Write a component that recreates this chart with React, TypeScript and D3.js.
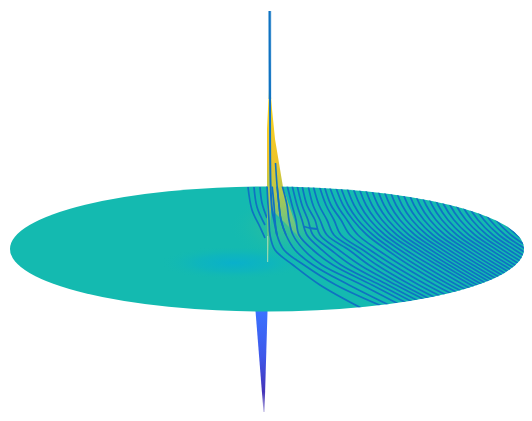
import React from "react";
import * as d3 from "d3";

// Surface extent, in units of the disc (centre = 0)
const discXDomain = [-257, 257];
const discYDomain = [-62.5, 62.5];
const discCentreX = 267;
const discCentreY = 249;

// Contour lines: sampled depth levels (disc Y) and the disc X crossing at each of them
const contourLevels = [-64, -44, -29, -14, 1, 16, 36, 61];
const xAtLevel0 = [267,272,277,282,287,292,297,302,308,313,319,324,329,335,340,346,352,358,364,370,376,382,388,394,400,406,412,418,424,430,436,442,448,454,460,466,472,478,484];
const xAtLevel1 = [268,274,279,287,292,297,302,307,313,319,326,331,337,343,348,354,360,366,372,378,384,390,396,402,408,414,420,426,432,438,444,450,456,462,468,474,480,486,492];
const xAtLevel2 = [269,275,281,289,296,302,308,315,320,327,334,341,347,353,358,364,370,376,382,388,394,400,406,412,418,424,430,436,442,448,454,460,466,472,478,484,490,496,502];
const xAtLevel3 = [270,277,286,293,299,307,313,320,327,334,341,350,358,367,373,379,385,391,397,403,409,415,421,427,433,439,445,451,457,463,469,475,481,487,493,499,505,511,517];
const xAtLevel4 = [275,284,295,304,313,322,331,339,349,356,363,370,378,387,393,400,406,413,419,425,431,437,443,449,455,461,467,473,479,485,491,497,503,509,515,521,527,533,539];
const xAtLevel5 = [293,304,313,322,333,341,351,360,369,377,385,393,401,409,416,423,430,437,443,449,455,461,467,473,479,485,491,497,503,509,515,521,527,533,539,545,551,557,563];
const xAtLevel6 = [320,336,349,362,372,380,388,396,403,411,419,427,435,443,450,457,464,471,477,483,489,495,501,507,513,519,525,531,537,543,549,555,561,567,573,579,585,591,597];
const xAtLevel7 = [365,391,399,410,420,428,436,445,452,460,468,476,484,492,499,506,513,520,526,532,538,544,550,556,562,568,574,580,586,592,598,604,610,616,622,628,634,640,646];
const contourColumns = [xAtLevel0, xAtLevel1, xAtLevel2, xAtLevel3, xAtLevel4, xAtLevel5, xAtLevel6, xAtLevel7];

// Short contours that end against the left side of the spike
const hookA: [number, number][] = [[-19,-62],[-15,-39],[-7,-22],[-2,-11]];
const hookB: [number, number][] = [[-13,-62],[-10,-42],[-2,-24]];
const hookC: [number, number][] = [[-7,-62],[-5,-46],[0,-31]];
const saddle: [number, number][] = [[37,-22.5],[43,-21],[50,-20]];

// Contours climbing the spike
const spikeLineA: [number, number][] = [[2.7,-238],[3,-150],[3.6,-64],[5,-40],[7,-29],[10,-14]];
const spikeLineB: [number, number][] = [[8.5,-86],[10,-64],[12,-44],[14,-29],[19,-14]];
const spikeHalo: [number, number][] = [[2.7,-238],[2.7,-150]];

// Peak and trough outlines
const peak: [number, number][] = [[2,-160],[0,-120],[0,-62],[0,13],[1,13],[3,-20],[4,-40],[30,-14],[34,-8],[16,-62],[8,-110],[5,-140],[3.4,-160]];
const trough: [number, number][] = [[-11.5,62],[0.5,62],[-2.5,163],[-3.5,163]];
const sliver: [number, number][] = [[0,-13],[1.2,-13],[1.2,13],[0,13]];

const lineColor = "#0f72c2";

export default function App() {
  const x = d3.scaleLinear().domain(discXDomain).range([discCentreX - 257, discCentreX + 257]);
  const y = d3.scaleLinear().domain(discYDomain).range([discCentreY - 62.5, discCentreY + 62.5]);

  const smooth = d3.line<[number, number]>().x((d) => x(d[0])).y((d) => y(d[1])).curve(d3.curveCatmullRom.alpha(0.5));
  const straight = d3.line<[number, number]>().x((d) => x(d[0])).y((d) => y(d[1])).curve(d3.curveLinearClosed);

  const rows = d3.range(xAtLevel0.length).map((i) =>
    contourLevels.map((lv, j) => [contourColumns[j][i] - discCentreX, lv] as [number, number])
  );

  const cx = x(0), cy = y(0), rx = x(257) - x(0), ry = y(62.5) - y(0);

  return (
    <svg width={532} height={421} style={{ position: "absolute", left: 0, top: 0 }}>
      <defs>
        <clipPath id="disc"><ellipse cx={cx} cy={cy} rx={rx} ry={ry} /></clipPath>
        <radialGradient id="glow" gradientUnits="userSpaceOnUse" cx={0} cy={0} r={1}
          gradientTransform={`translate(${x(-33)},${y(14)}) scale(75,17)`}>
          <stop offset="0" stopColor="#09b0cb" />
          <stop offset="0.5" stopColor="#0db4c0" stopOpacity="0.75" />
          <stop offset="1" stopColor="#14bab0" stopOpacity="0" />
        </radialGradient>
        <radialGradient id="warm" gradientUnits="userSpaceOnUse" cx={0} cy={0} r={1}
          gradientTransform={`translate(${x(22)},${y(-22)}) scale(60,34)`}>
          <stop offset="0" stopColor="#3dc190" />
          <stop offset="1" stopColor="#14bab0" stopOpacity="0" />
        </radialGradient>
        <linearGradient id="peakFill" gradientUnits="userSpaceOnUse" x1={0} x2={0} y1={y(-160)} y2={y(15)}>
          <stop offset="0" stopColor="#f9d923" />
          <stop offset="0.4" stopColor="#eec42b" />
          <stop offset="0.58" stopColor="#b9c94a" />
          <stop offset="0.75" stopColor="#74c57c" />
          <stop offset="1" stopColor="#25bc9f" />
        </linearGradient>
        <linearGradient id="troughFill" gradientUnits="userSpaceOnUse" x1={0} x2={0} y1={y(62)} y2={y(163)}>
          <stop offset="0" stopColor="#3a72ff" />
          <stop offset="0.45" stopColor="#3f58ea" />
          <stop offset="0.8" stopColor="#4433b8" />
          <stop offset="1" stopColor="#b5aee0" />
        </linearGradient>
      </defs>

      <path d={straight(trough) ?? ""} fill="url(#troughFill)" />
      <ellipse cx={cx} cy={cy} rx={rx} ry={ry} fill="#14bab0" />
      <g clipPath="url(#disc)">
        <rect x={0} y={180} width={532} height={140} fill="url(#warm)" />
        <rect x={0} y={180} width={532} height={140} fill="url(#glow)" />
        {[hookA, hookB, hookC].map((h, i) => (
          <path key={i} d={smooth(h) ?? ""} fill="none" stroke={lineColor} strokeWidth={1.7} />
        ))}
      </g>
      <path d={straight(peak) ?? ""} fill="url(#peakFill)" />
      <path d={straight(sliver) ?? ""} fill="#93d8b4" />
      <g clipPath="url(#disc)">
        {rows.map((r, i) => (
          <path key={i} d={smooth(r) ?? ""} fill="none" stroke={lineColor} strokeWidth={1.7} />
        ))}
        <path d={smooth(saddle) ?? ""} fill="none" stroke={lineColor} strokeWidth={1.8} />
      </g>
      <path d={smooth(spikeHalo) ?? ""} fill="none" stroke="#6eaedc" strokeOpacity={0.55} strokeWidth={3.4} />
      <path d={smooth(spikeLineA) ?? ""} fill="none" stroke={lineColor} strokeWidth={2} />
      <path d={smooth(spikeLineB) ?? ""} fill="none" stroke={lineColor} strokeWidth={1.6} />
    </svg>
  );
}
